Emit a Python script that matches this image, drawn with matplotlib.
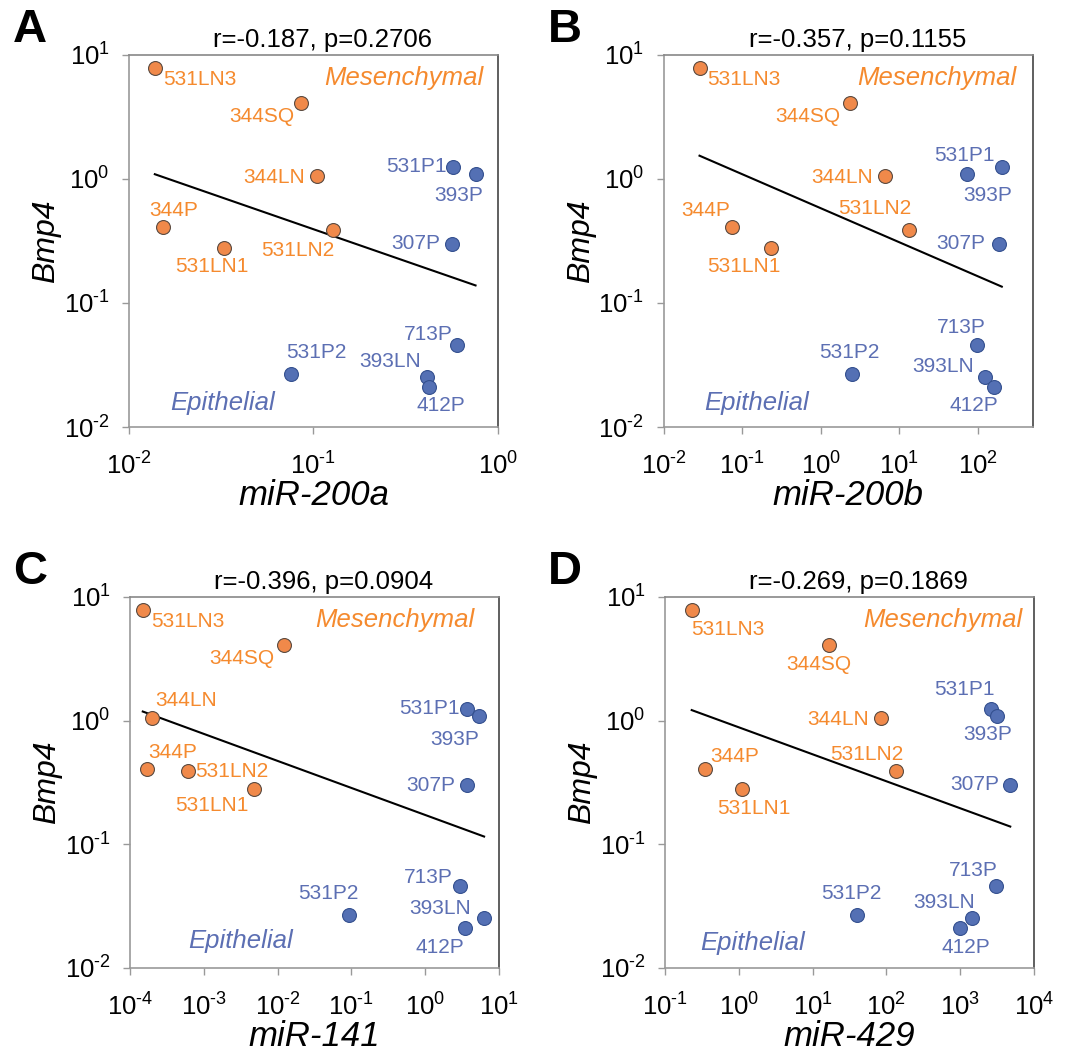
import numpy as np
import matplotlib
matplotlib.use("Agg")
import matplotlib.pyplot as plt

plt.rcParams['font.family'] = ['Liberation Sans', 'DejaVu Sans']
plt.rcParams['mathtext.fontset'] = 'custom'
plt.rcParams['mathtext.rm'] = 'Liberation Sans'
plt.rcParams['mathtext.it'] = 'Liberation Sans:italic'

# cell lines (same order everywhere)
names = ['531LN3', '344SQ', '344LN', '344P', '531LN1', '531LN2',
         '531P1', '393P', '307P', '713P', '531P2', '393LN', '412P']
is_mes = [True, True, True, True, True, True,
          False, False, False, False, False, False, False]

# Bmp4 (y)
bmp4 = [7.8, 4.07, 1.06, 0.41, 0.28, 0.39,
        1.25, 1.09, 0.30, 0.046, 0.0266, 0.0255, 0.0211]

# miRNA levels (x)
mir200a = [0.0138, 0.0853, 0.104, 0.0153, 0.0327, 0.128,
           0.568, 0.757, 0.565, 0.604, 0.0757, 0.414, 0.423]
mir200b = [0.0284, 2.34, 6.47, 0.074, 0.231, 13.2,
           202, 72.5, 185, 97, 2.51, 124, 163]
mir141 = [1.49e-4, 0.0123, 1.99e-4, 1.68e-4, 4.74e-3, 6.04e-4,
          3.65, 5.41, 3.76, 2.97, 0.0918, 6.32, 3.53]
mir429 = [0.23, 16.8, 85.7, 0.352, 1.12, 137,
          2640, 3150, 4790, 3090, 39.7, 1462, 986]

titles = ['r=-0.187, p=0.2706', 'r=-0.357, p=0.1155',
          'r=-0.396, p=0.0904', 'r=-0.269, p=0.1869']
xlabels = ['miR-200a', 'miR-200b', 'miR-141', 'miR-429']
letters = ['A', 'B', 'C', 'D']

ORANGE = '#F0894A'
ORANGE_TXT = '#F58A2E'
BLUE = '#5470B4'
BLUE_TXT = '#5C6FB3'

# label offsets in pixels (dx, dy, ha) for each panel
offs_A = {'531LN3': (8, -11, 'left'), '344SQ': (-6, -13, 'right'),
          '344LN': (-12, -2, 'right'), '344P': (-14, 16, 'left'),
          '531LN1': (-12, -19, 'center'), '531LN2': (1, -21, 'right'),
          '531P1': (-6, 0, 'right'), '393P': (8, -21, 'right'),
          '307P': (-12, 0, 'right'), '713P': (-5, 10, 'right'),
          '531P2': (-5, 22, 'left'), '393LN': (-6, 15, 'right'),
          '412P': (-12, -19, 'left')}
offs_B = {'531LN3': (8, -11, 'left'), '344SQ': (-9, -13, 'right'),
          '344LN': (-12, -2, 'right'), '344P': (-2, 16, 'right'),
          '531LN1': (10, -19, 'right'), '531LN2': (3, 21, 'right'),
          '531P1': (-7, 11, 'right'), '393P': (-4, -21, 'left'),
          '307P': (-14, 0, 'right'), '713P': (9, 17, 'right'),
          '531P2': (-33, 22, 'left'), '393LN': (-11, 10, 'right'),
          '412P': (4, -19, 'right')}
offs_C = {'531LN3': (8, -11, 'left'), '344SQ': (-10, -13, 'right'),
          '344LN': (3, 17, 'left'), '344P': (2, 16, 'left'),
          '531LN1': (-5, -16, 'right'), '531LN2': (8, 0, 'left'),
          '531P1': (-7, 0, 'right'), '393P': (0, -23, 'right'),
          '307P': (-12, 0, 'right'), '713P': (-7, 9, 'right'),
          '531P2': (10, 22, 'right'), '393LN': (-13, 9, 'right'),
          '412P': (-1, -20, 'right')}
offs_D = {'531LN3': (-1, -19, 'left'), '344SQ': (-10, -19, 'center'),
          '344LN': (-12, -2, 'right'), '344P': (5, 12, 'left'),
          '531LN1': (-25, -19, 'left'), '531LN2': (7, 17, 'right'),
          '531P1': (3, 19, 'right'), '393P': (15, -18, 'right'),
          '307P': (-11, 1, 'right'), '713P': (2, 16, 'right'),
          '531P2': (25, 22, 'right'), '393LN': (3, 15, 'right'),
          '412P': (-18, -20, 'left')}

panels = [
    dict(x=mir200a, xlim=(1e-2, 1e0), xt=[1e-2, 1e-1, 1e0], offs=offs_A,
         rect=[0.1207, 0.5983, 0.345, 0.350], mes=(0.96, 0.939), epi=(0.111, 0.065)),
    dict(x=mir200b, xlim=(1e-2, 10**2.70), xt=[1e-2, 1e-1, 1e0, 1e1, 1e2], offs=offs_B,
         rect=[0.6211, 0.5983, 0.345, 0.350], mes=(0.956, 0.939), epi=(0.108, 0.065)),
    dict(x=mir141, xlim=(1e-4, 1e1), xt=[1e-4, 1e-3, 1e-2, 1e-1, 1e0, 1e1], offs=offs_C,
         rect=[0.1216, 0.0894, 0.345, 0.349], mes=(0.935, 0.937), epi=(0.158, 0.073)),
    dict(x=mir429, xlim=(1e-1, 1e4), xt=[1e-1, 1e0, 1e1, 1e2, 1e3, 1e4], offs=offs_D,
         rect=[0.6221, 0.0894, 0.345, 0.349], mes=(0.969, 0.937), epi=(0.095, 0.066)),
]
letter_pos = [(30, 30), (565, 30), (30, 572), (565, 572)]


def pow_label(t):
    e = int(round(np.log10(t)))
    if e < 0:
        return r'$10^{\text{-}%d}$' % (-e)
    return r'$10^{%d}$' % e


fig = plt.figure(figsize=(10.69, 10.63), dpi=100)
y = np.array(bmp4)

for i, p in enumerate(panels):
    ax = fig.add_axes(p['rect'])
    x = np.array(p['x'])
    ax.set_xscale('log')
    ax.set_yscale('log')
    ax.set_xlim(*p['xlim'])
    ax.set_ylim(1e-2, 1e1)

    # regression line in log-log space
    k, b = np.polyfit(np.log10(x), np.log10(y), 1)
    xl = np.array([x.min(), x.max()])
    ax.plot(xl, 10 ** (k * np.log10(xl) + b), color='black', lw=1.5, zorder=2)

    for j, n in enumerate(names):
        if is_mes[j]:
            fc, ec, tc = ORANGE, '#5a4a40', ORANGE_TXT
        else:
            fc, ec, tc = BLUE, '#34508f', BLUE_TXT
        ax.scatter(x[j], y[j], s=100, color=fc, edgecolor=ec, linewidth=0.8, zorder=3)
        dx, dy, ha = p['offs'][n]
        ax.annotate(n, (x[j], y[j]), xytext=(dx, dy), textcoords='offset pixels',
                    ha=ha, va='center', fontsize=15, color=tc, zorder=4)

    ax.text(p['mes'][0], p['mes'][1], 'Mesenchymal', transform=ax.transAxes,
            ha='right', va='center', fontsize=18.5, style='italic', color=ORANGE_TXT)
    ax.text(p['epi'][0], p['epi'][1], 'Epithelial', transform=ax.transAxes,
            ha='left', va='center', fontsize=18.5, style='italic', color=BLUE_TXT)

    ax.set_xticks(p['xt'])
    ax.set_xticklabels([pow_label(t) for t in p['xt']])
    yt = [1e-2, 1e-1, 1e0, 1e1]
    ax.set_yticks(yt)
    ax.set_yticklabels([pow_label(t) for t in yt])
    ax.minorticks_off()
    ax.tick_params(axis='both', labelsize=18.5, color='#999999', length=5, width=1)
    ax.tick_params(axis='x', pad=13)
    ax.tick_params(axis='y', pad=9)

    ax.spines['left'].set_color('#999999')
    ax.spines['bottom'].set_color('#999999')
    ax.spines['top'].set_color('#888888')
    ax.spines['right'].set_color('#444444')
    for s in ax.spines.values():
        s.set_linewidth(1.2)

    ax.set_title(titles[i], fontsize=18.5, pad=6, x=0.525)
    ax.set_xlabel(xlabels[i], fontsize=25, style='italic', labelpad=0)
    ax.set_ylabel('Bmp4', fontsize=23, style='italic', labelpad=2)

    fig.text(letter_pos[i][0] / 1069, 1 - letter_pos[i][1] / 1063, letters[i],
             fontsize=34, fontweight='bold', ha='center', va='center')

fig.savefig('out.png', dpi=100)
